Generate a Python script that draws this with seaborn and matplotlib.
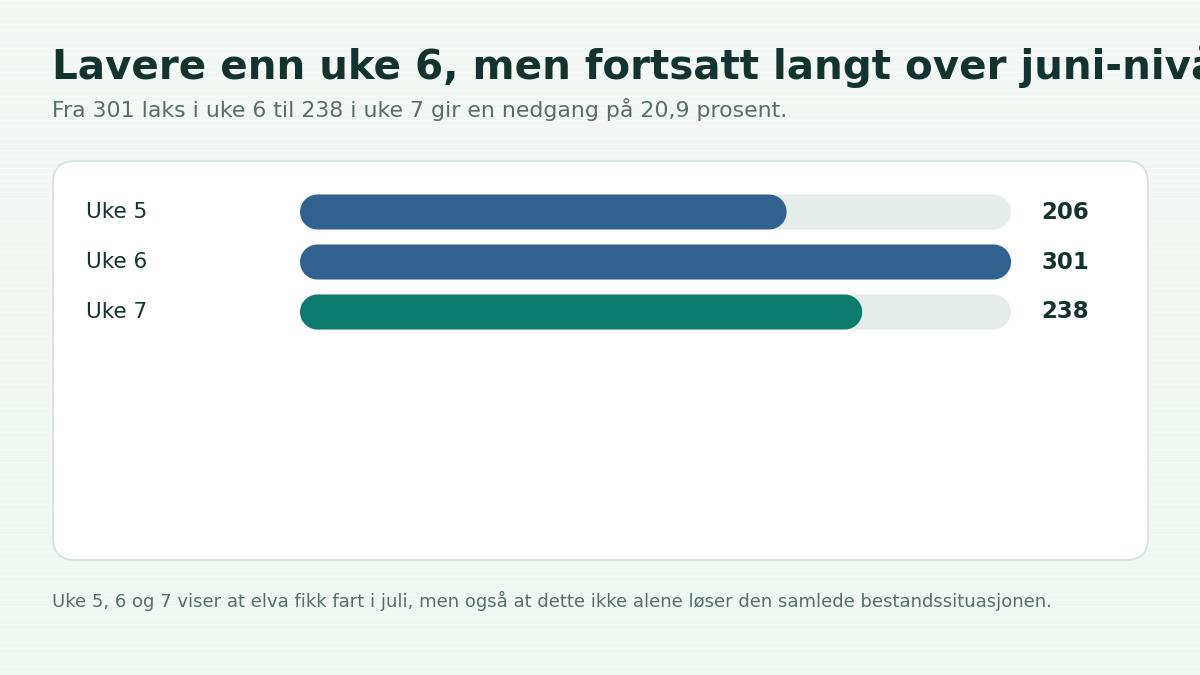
import matplotlib
matplotlib.use("Agg")
import matplotlib.pyplot as plt
import numpy as np
import pandas as pd
import seaborn as sns
from matplotlib.patches import FancyBboxPatch, Polygon
from matplotlib.transforms import IdentityTransform

# data
weeks = ["Uke 5", "Uke 6", "Uke 7"]
laks = [206, 301, 238]
bar_colors = ["#31618f", "#31618f", "#0b7b70"]
track_color = "#e5eeea"

title = "Lavere enn uke 6, men fortsatt langt over juni-nivå"
subtitle = "Fra 301 laks i uke 6 til 238 i uke 7 gir en nedgang på 20,9 prosent."
footer = "Uke 5, 6 og 7 viser at elva fikk fart i juli, men også at dette ikke alene løser den samlede bestandssituasjonen."

sns.set_theme(style="white")
plt.rcParams["font.family"] = ["DejaVu Sans"]

W, H = 1200, 675
fig = plt.figure(figsize=(12, 6.75), dpi=100)

# background in pixel coords
bg = fig.add_axes([0, 0, 1, 1])
bg.set_xlim(0, W)
bg.set_ylim(H, 0)
bg.axis("off")
top = np.array([0xf3, 0xf7, 0xf5]) / 255
bot = np.array([0xee, 0xf7, 0xf2]) / 255
t = np.linspace(0, 1, H)[:, None]
img = top * (1 - t) + bot * t
rows = np.arange(H)
stripe = (rows % 6 == 0)
img[stripe] = img[stripe] * 0.5 + 0.5 * np.array([0.975, 0.985, 0.98])
img = np.repeat(img[:, None, :], 2, axis=1)
bg.imshow(img, extent=[0, W, H, 0], aspect="auto", zorder=0)

card = FancyBboxPatch((53, 161), 1095, 399, boxstyle="round,pad=0,rounding_size=22",
                      facecolor="white", edgecolor="#d3e4dd", linewidth=1.3, zorder=1)
bg.add_patch(card)

bg.text(52, 79, title, fontsize=29.1, fontweight="bold", color="#12332f", va="baseline", zorder=3)
bg.text(52, 117, subtitle, fontsize=15.8, color="#586d67", va="baseline", zorder=3)
bg.text(52, 607, footer, fontsize=13, color="#586d67", va="baseline", zorder=3)

# bars axes: x 300..1011 px, rows 187..337 px (from top)
x0, x1 = 300, 1011
y_top, y_bot = 187, 337
ax = fig.add_axes([x0 / W, 1 - y_bot / H, (x1 - x0) / W, (y_bot - y_top) / H])
ax.patch.set_alpha(0)

df = pd.DataFrame({"uke": weeks, "laks": laks})
df["track"] = max(laks)

sns.barplot(data=df, y="uke", x="track", color=track_color, width=0.7, ax=ax,
            saturation=1, zorder=2)
sns.barplot(data=df, y="uke", x="laks", hue="uke", palette=bar_colors, width=0.7,
            ax=ax, saturation=1, legend=False, zorder=3)
ax.set_xlim(0, max(laks))
ax.set_ylim(2.5, -0.5)
ax.axis("off")


def pill(ext):
    # pill outline in display pixels: flat sides + semicircle ends
    r = ext.height / 2
    cy = ext.y0 + r
    a = np.linspace(np.pi / 2, 3 * np.pi / 2, 40)
    left = np.c_[ext.x0 + r + r * np.cos(a), cy + r * np.sin(a)]
    b = np.linspace(-np.pi / 2, np.pi / 2, 40)
    right = np.c_[ext.x1 - r + r * np.cos(b), cy + r * np.sin(b)]
    return np.vstack([left, right])


# swap plain bars for pill-shaped ones
for p in list(ax.patches):
    ext = p.get_window_extent()
    rp = Polygon(pill(ext), closed=True, transform=IdentityTransform(),
                 facecolor=p.get_facecolor(), edgecolor="none", antialiased=True,
                 zorder=p.get_zorder())
    p.remove()
    fig.add_artist(rp)

px_x = (x1 - x0) / max(laks)
for i, (w, v) in enumerate(zip(weeks, laks)):
    ax.text(-(x0 - 86) / px_x, i, w, fontsize=15.5, color="#12332f", va="center",
            ha="left", clip_on=False)
    ax.text((1041 - x0) / px_x, i, str(v), fontsize=16.5, fontweight="bold",
            color="#12332f", va="center", ha="left", clip_on=False)

fig.savefig("out.png", dpi=100)
